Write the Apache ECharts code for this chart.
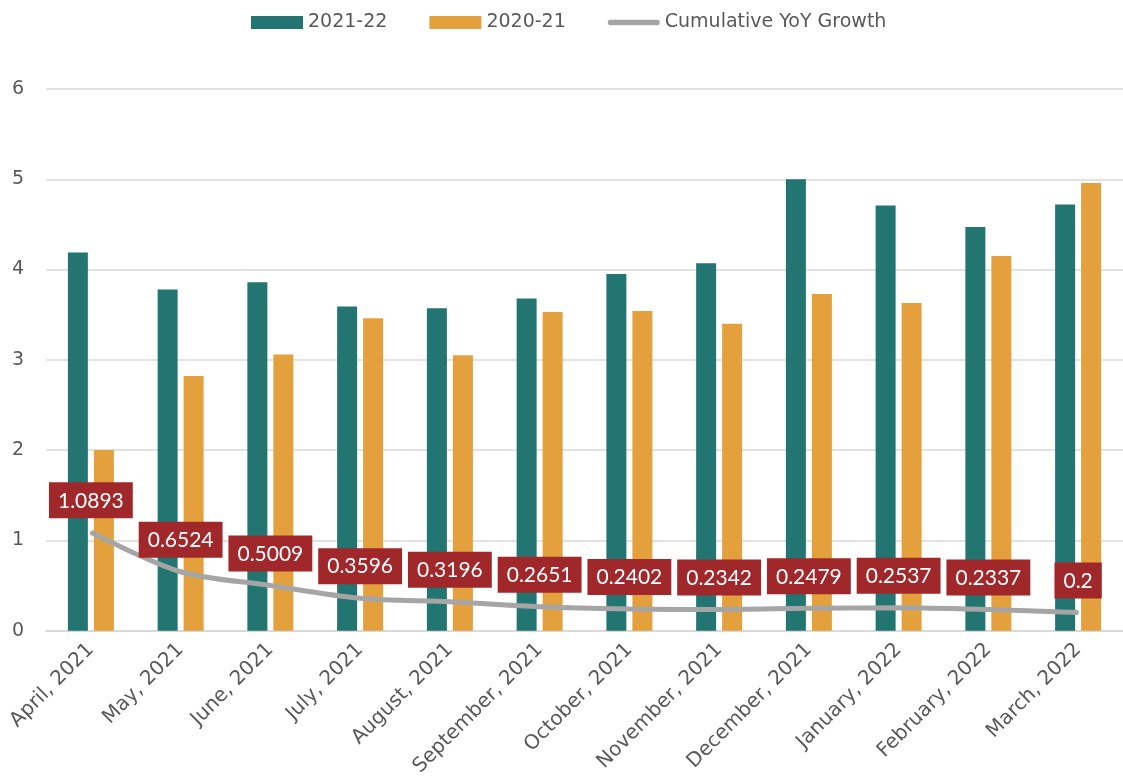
<!DOCTYPE html>
<html><head><meta charset="utf-8">
<script src="https://cdn.jsdelivr.net/npm/echarts@6/dist/echarts.min.js"></script>
<style>html,body{margin:0;padding:0;background:#fff}#c{width:1123px;height:779px}</style>
</head><body><div id="c"></div>
<script>
const categories = ['April, 2021','May, 2021','June, 2021','July, 2021','August, 2021','September, 2021','October, 2021','November, 2021','December, 2021','January, 2022','February, 2022','March, 2022'];
const s2122 = [4.19,3.78,3.86,3.59,3.57,3.68,3.95,4.07,5.0,4.71,4.47,4.72];
const s2021 = [2.0,2.82,3.06,3.46,3.05,3.53,3.54,3.40,3.73,3.63,4.15,4.96];
const growth = [1.0893,0.6524,0.5009,0.3596,0.3196,0.2651,0.2402,0.2342,0.2479,0.2537,0.2337,0.2];
const font = '"DejaVu Sans", sans-serif';
const chart = echarts.init(document.getElementById('c'));
chart.setOption({
  animation:false,
  textStyle:{fontFamily:font},
  legend:{top:8,left:246,itemGap:42,itemWidth:52,itemHeight:13,
    textStyle:{fontSize:19,color:'#595959',fontFamily:font},
    data:[{name:'2021-22',icon:'rect'},{name:'2020-21',icon:'rect'},
      {name:'Cumulative YoY Growth',icon:'path://M3,0 L55,0 A3,3 0 0 1 55,6 L3,6 A3,3 0 0 1 3,0 Z',itemStyle:{color:'#A5A5A5'}}]},
  grid:{left:46,right:0,top:89,bottom:148,containLabel:false},
  xAxis:{type:'category',data:categories,
    axisLine:{show:true,lineStyle:{color:'#D9D9D9',width:2}},axisTick:{show:false},
    axisLabel:{rotate:45,fontSize:20,color:'#595959',interval:0,margin:16,fontFamily:font}},
  yAxis:{type:'value',min:0,max:6,interval:1,
    splitLine:{lineStyle:{color:'#D9D9D9',width:1.5}},axisLine:{show:false},axisTick:{show:false},
    axisLabel:{fontSize:19,color:'#595959',margin:22,fontFamily:font}},
  series:[
    {name:'2021-22',type:'bar',data:s2122,barWidth:20,barGap:'30%',itemStyle:{color:'#237572'}},
    {name:'2020-21',type:'bar',data:s2021,barWidth:20,itemStyle:{color:'#E3A03C'}},
    {name:'Cumulative YoY Growth',type:'line',data:growth,smooth:0.3,symbol:'circle',symbolSize:2,showSymbol:true,
      lineStyle:{color:'#A5A5A5',width:5},itemStyle:{color:'#A5A5A5'},
      label:{show:true,position:'top',distance:13,backgroundColor:'#A0282B',color:'#fff',
        fontSize:21,padding:[8,9,7,9],fontFamily:'Lato, sans-serif'}}
  ]
});
</script></body></html>
